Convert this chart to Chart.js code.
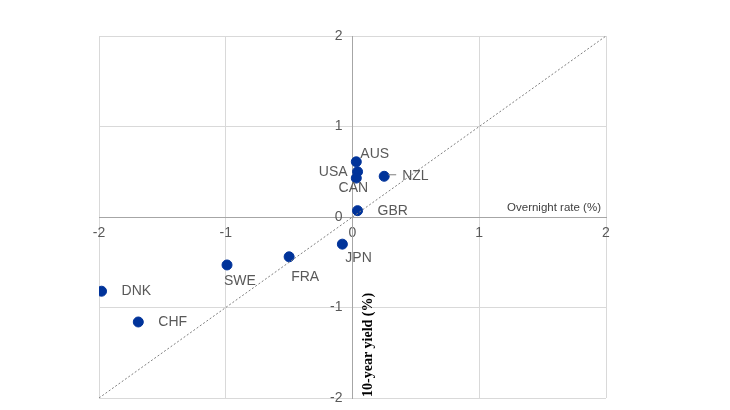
<!DOCTYPE html>
<html>
<head>
<meta charset="utf-8">
<script src="https://cdn.jsdelivr.net/npm/chart.js@4/dist/chart.umd.min.js"></script>
<style>
  html, body { margin: 0; padding: 0; background: #fff; }
  #wrap { width: 730px; height: 410px; position: relative; }
</style>
</head>
<body>
<div id="wrap"><canvas id="c"></canvas></div>
<script>
// ---- Data ----
const countries = ['AUS', 'USA', 'CAN', 'NZL', 'GBR', 'JPN', 'FRA', 'SWE', 'DNK', 'CHF'];
const overnightRate = [0.03, 0.04, 0.03, 0.25, 0.04, -0.08, -0.50, -0.99, -1.98, -1.69];
const tenYearYield = [0.61, 0.50, 0.43, 0.45, 0.07, -0.30, -0.44, -0.53, -0.82, -1.16];
const axisTicks = [-2, -1, 0, 1, 2];
const xAxisTitle = 'Overnight rate (%)';
const yAxisTitle = '10-year yield (%)';

// ---- Label placement (styling) ----
const labelPlacement = {
  AUS: { dx: 4, dy: -8, align: 'left' },
  USA: { dx: -10, dy: 0, align: 'right' },
  CAN: { dx: -3, dy: 10, align: 'center' },
  NZL: { dx: 18, dy: 0, align: 'left', leader: true },
  GBR: { dx: 20, dy: 0, align: 'left' },
  JPN: { dx: 3, dy: 14, align: 'left' },
  FRA: { dx: 2, dy: 20, align: 'left' },
  SWE: { dx: -3, dy: 16, align: 'left' },
  DNK: { dx: 20, dy: 0, align: 'left' },
  CHF: { dx: 20, dy: 0, align: 'left' }
};

const points = countries.map((c, i) => ({ x: overnightRate[i], y: tenYearYield[i] }));
const diagonal = [{ x: axisTicks[0], y: axisTicks[0] }, { x: axisTicks[axisTicks.length - 1], y: axisTicks[axisTicks.length - 1] }];
const tickFont = '14px "Liberation Sans", Arial, sans-serif';

const labelPlugin = {
  id: 'labels',
  afterDatasetsDraw(chart) {
    const ctx = chart.ctx;
    const meta = chart.getDatasetMeta(1);
    const area = chart.chartArea;
    const ys = chart.scales.y, xs = chart.scales.x;
    ctx.save();
    // y-axis tick labels, placed left of the centre axis
    ctx.font = tickFont;
    ctx.fillStyle = '#595959';
    ctx.textAlign = 'right';
    ctx.textBaseline = 'middle';
    const x0 = xs.getPixelForValue(0);
    ys.ticks.forEach(t => {
      ctx.fillText(String(t.value), x0 - 10, ys.getPixelForValue(t.value));
    });
    // data labels
    ctx.font = '14px "Liberation Sans", Arial, sans-serif';
    meta.data.forEach((pt, i) => {
      const name = countries[i];
      const p = labelPlacement[name];
      if (p.leader) {
        ctx.strokeStyle = '#7f7f7f';
        ctx.lineWidth = 1;
        ctx.beginPath();
        ctx.moveTo(pt.x + 4, pt.y - 1.5);
        ctx.lineTo(pt.x + 12, pt.y - 1.5);
        ctx.stroke();
      }
      ctx.textAlign = p.align;
      ctx.fillText(name, pt.x + p.dx, pt.y + p.dy);
    });
    // axis titles
    ctx.font = '11.5px "Liberation Sans", Arial, sans-serif';
    ctx.fillStyle = '#404040';
    ctx.textAlign = 'right';
    ctx.textBaseline = 'alphabetic';
    ctx.fillText(xAxisTitle, area.right - 5, ys.getPixelForValue(0) - 6);
    ctx.save();
    ctx.translate(x0 + 16, area.bottom - 1);
    ctx.rotate(-Math.PI / 2);
    ctx.font = 'bold 14px "Liberation Serif", "DejaVu Serif", serif';
    ctx.fillStyle = '#000';
    ctx.textAlign = 'left';
    ctx.textBaseline = 'middle';
    ctx.fillText(yAxisTitle, 0, 0);
    ctx.restore();
    ctx.restore();
  }
};

new Chart(document.getElementById('c'), {
  type: 'scatter',
  data: {
    datasets: [
      {
        type: 'line',
        data: diagonal,
        borderColor: '#7f7f7f',
        borderWidth: 1,
        borderDash: [2, 2],
        pointRadius: 0,
        fill: false
      },
      {
        data: points,
        backgroundColor: '#00339a',
        borderColor: '#00339a',
        pointRadius: 5,
        pointHoverRadius: 5
      }
    ]
  },
  options: {
    responsive: true,
    maintainAspectRatio: false,
    animation: false,
    devicePixelRatio: 1,
    layout: { padding: { left: 99, right: 124, top: 36, bottom: 12 } },
    plugins: { legend: { display: false }, tooltip: { enabled: false } },
    scales: {
      x: {
        type: 'linear',
        position: { y: 0 },
        min: axisTicks[0],
        max: axisTicks[axisTicks.length - 1],
        afterBuildTicks: (s) => { s.ticks = axisTicks.map(v => ({ value: v })); },
        grid: { color: '#d9d9d9', lineWidth: 1, drawTicks: false },
        border: { color: '#a6a6a6', width: 1 },
        ticks: { color: '#595959', font: { size: 14, family: '"Liberation Sans", Arial, sans-serif' }, padding: 8, maxRotation: 0 }
      },
      y: {
        type: 'linear',
        position: { x: 0 },
        min: axisTicks[0],
        max: axisTicks[axisTicks.length - 1],
        afterBuildTicks: (s) => { s.ticks = axisTicks.map(v => ({ value: v })); },
        grid: { color: '#d9d9d9', lineWidth: 1, drawTicks: false },
        border: { color: '#a6a6a6', width: 1 },
        ticks: { display: false }
      }
    }
  },
  plugins: [labelPlugin]
});
</script>
</body>
</html>
